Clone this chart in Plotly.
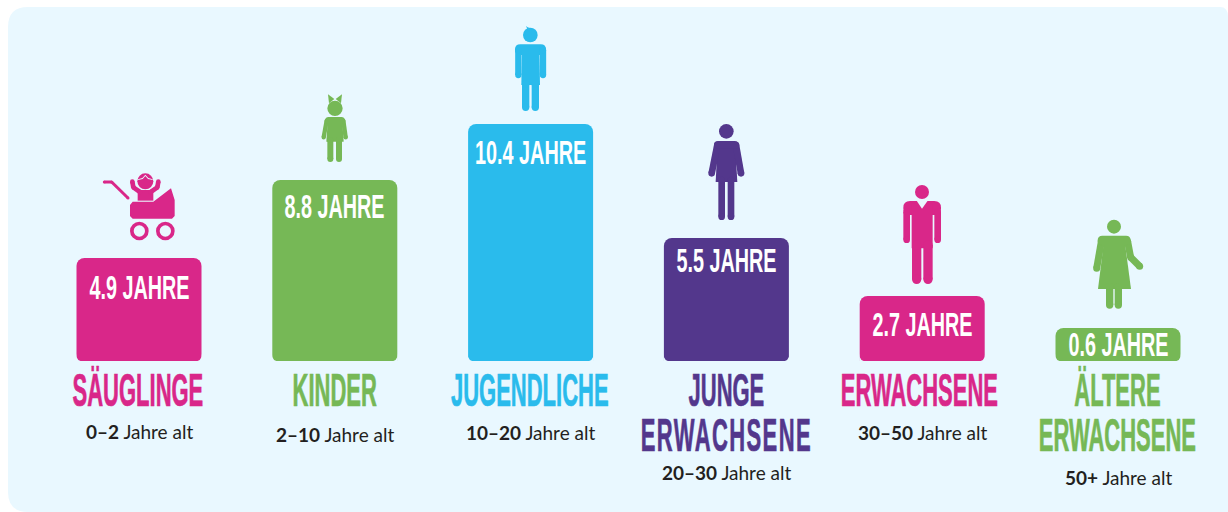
import re
import plotly.graph_objects as go

W, H = 1228, 512
BASE_Y = 361

categories = ["Säuglinge", "Kinder", "Jugendliche", "Junge Erwachsene", "Erwachsene", "Ältere Erwachsene"]
bar_heights = [103, 181, 237, 123, 65, 33]
value_labels = ["4.9 JAHRE", "8.8 JAHRE", "10.4 JAHRE", "5.5 JAHRE", "2.7 JAHRE", "0.6 JAHRE"]
value_offsets = [29, 26, 28, 22, 28, 16]
title_lines = [["SÄUGLINGE"], ["KINDER"], ["JUGENDLICHE"], ["JUNGE", "ERWACHSENE"], ["ERWACHSENE"], ["ÄLTERE", "ERWACHSENE"]]
title_x = [138, 335, 530, 726, 919, 1117]
age_ranges = ["0–2", "2–10", "10–20", "20–30", "30–50", "50+"]
age_x = [139, 335, 530, 726, 922, 1118]
age_y = [431, 434, 432, 472, 432, 477]
colors = ["#D92789", "#76B856", "#2ABBEC", "#53378C", "#D92789", "#76B856"]

PANEL = "#E9F8FF"
MAGENTA, GREEN, BLUE, PURPLE = "#D92789", "#76B856", "#2ABBEC", "#53378C"
BAR_W = 125
SLOT = 195.8
X0 = 139 - SLOT / 2
X1 = 1118 + SLOT / 2
TITLE_SIZE = 39

shapes = []


def fx(x):
    return x / W


def fy(y):
    return 1 - y / H


def path_px(d):
    toks = re.findall(r"[MLQCZ]|-?[\d.]+", d)
    out, is_x = [], True
    for t in toks:
        if t in "MLQCZ":
            out.append(t)
            is_x = True
        else:
            v = float(t)
            out.append(f"{fx(v) if is_x else fy(v):.6f}")
            is_x = not is_x
    return " ".join(out)


def add_path(d, fill, line=None, width=0):
    shapes.append(dict(type="path", xref="paper", yref="paper", path=path_px(d), fillcolor=fill,
                       line=dict(width=width, color=line or fill), layer="above"))


def circle(cx, cy, r, fill, line=None, width=0):
    shapes.append(dict(type="circle", xref="paper", yref="paper", x0=fx(cx - r), x1=fx(cx + r),
                       y0=fy(cy + r), y1=fy(cy - r), fillcolor=fill,
                       line=dict(width=width, color=line or fill), layer="above"))


def rrect(x0, y0, x1, y1, r, fill):
    add_path(f"M {x0+r} {y0} L {x1-r} {y0} Q {x1} {y0} {x1} {y0+r} L {x1} {y1-r} Q {x1} {y1} {x1-r} {y1} "
             f"L {x0+r} {y1} Q {x0} {y1} {x0} {y1-r} L {x0} {y0+r} Q {x0} {y0} {x0+r} {y0} Z", fill)


def capsule(pts, r, color):
    for (a, b), (c, d) in zip(pts, pts[1:]):
        shapes.append(dict(type="line", xref="paper", yref="paper", x0=fx(a), y0=fy(b), x1=fx(c), y1=fy(d),
                           line=dict(width=2 * r, color=color), layer="above"))
    for a, b in pts:
        circle(a, b, r, color)


class Icon:
    """Icon drawn in 3x zoomed coordinates with a pixel origin."""

    def __init__(self, ox, oy, color):
        self.ox, self.oy, self.c = ox, oy, color

    def p(self, x, y):
        return self.ox + x / 3, self.oy + y / 3

    def poly(self, pts, color=None):
        q = [self.p(*t) for t in pts]
        d = "M " + " L ".join(f"{a} {b}" for a, b in q) + " Z"
        add_path(d, color or self.c)

    def circ(self, x, y, r, color=None):
        a, b = self.p(x, y)
        circle(a, b, r / 3, color or self.c)

    def cap(self, pts, r, color=None):
        capsule([self.p(*t) for t in pts], r / 3, color or self.c)

    def rr(self, x0, y0, x1, y1, r):
        a, b = self.p(x0, y0)
        c, d = self.p(x1, y1)
        rrect(a, b, c, d, r / 3, self.c)


# background panel
r = 20
shapes.append(dict(type="path", xref="paper", yref="paper", layer="below", fillcolor=PANEL, line=dict(width=0),
                   path=path_px(f"M {8+r} 7 L {W-8} 7 Q {W} 7 {W} 17 L {W} {H} L {8+r} {H} Q 8 {H} 8 {H-r} L 8 {7+r} Q 8 7 {8+r} 7 Z")))

# lower bar corners
cr = 8
for i in range(6):
    cx = X0 + SLOT * (i + 0.5)
    a, b = cx - BAR_W / 2 - 0.5, cx + BAR_W / 2 + 0.5
    y = BASE_Y + 0.5
    add_path(f"M {a} {y} L {a+cr} {y} Q {a} {y} {a} {y-cr} Z", PANEL)
    add_path(f"M {b} {y} L {b-cr} {y} Q {b} {y} {b} {y-cr} Z", PANEL)

# stroller
s = Icon(60, 90, MAGENTA)
s.cap([(133, 276), (155, 276), (204, 324)], 4.5)
s.poly([(233, 300), (280, 300), (280, 332), (233, 332)])
s.cap([(217, 275), (220, 292), (240, 306)], 7)
s.cap([(295, 275), (292, 292), (272, 306)], 7)
s.circ(256, 272, 26, PANEL)
s.circ(256, 274, 24)
s.poly([(256, 254), (247, 264), (234, 268), (234, 270), (248, 267), (256, 258), (264, 267), (278, 270), (278, 268), (265, 264)], PANEL)
s.poly([(210, 345), (218, 335), (280, 335), (333, 295), (344, 330), (344, 378), (336, 386), (218, 386), (210, 378)])
s.circ(238, 423, 28)
s.circ(238, 423, 17, PANEL)
s.circ(316, 423, 28)
s.circ(316, 423, 17, PANEL)

# girl
g = Icon(60, 90, GREEN)
g.poly([(804, 13), (823, 27), (807, 40)])
g.poly([(846, 13), (827, 27), (843, 40)])
g.circ(825, 55, 23)
g.poly([(804, 82), (846, 82), (851, 155), (799, 155)])
g.cap([(800, 92), (791, 142)], 6.5)
g.cap([(850, 92), (857, 142)], 6.5)
g.rr(796, 81, 854, 102, 10)
g.cap([(811, 150), (811, 207)], 9)
g.cap([(837, 150), (837, 207)], 9)

# teenager
b = Icon(460, 10, BLUE)
b.circ(211, 75, 22)
b.poly([(198, 48), (203, 52), (210, 54), (202, 58)])
b.rr(165, 103, 258, 135, 16)
b.poly([(186, 110), (238, 110), (240, 225), (184, 225)])
b.cap([(175, 120), (175, 195)], 9.5)
b.cap([(249, 120), (249, 195)], 9.5)
b.cap([(197, 222), (197, 292)], 11)
b.cap([(226, 222), (226, 292)], 11)

# young woman
w = Icon(460, 10, PURPLE)
w.poly([(773, 395), (825, 395), (832, 516), (767, 516)])
w.cap([(772, 405), (755, 490)], 10)
w.cap([(828, 405), (843, 490)], 10)
w.rr(762, 393, 836, 416, 12)
w.circ(799, 364, 26, PANEL)
w.circ(799, 364, 22)
w.cap([(785, 510), (785, 620)], 10)
w.cap([(813, 510), (813, 620)], 10)

# adult man
m = Icon(860, 170, MAGENTA)
m.rr(130, 93, 243, 135, 20)
m.poly([(155, 100), (218, 100), (218, 235), (155, 235)])
m.cap([(140, 125), (140, 209)], 10)
m.cap([(233, 125), (233, 209)], 10)
m.cap([(170, 225), (170, 328)], 14)
m.cap([(204, 225), (204, 328)], 14)
m.poly([(170, 92), (203, 92), (186, 116)], PANEL)
m.circ(186, 66, 21)

# older woman
o = Icon(860, 170, GREEN)
o.poly([(733, 205), (793, 205), (813, 357), (714, 357)])
o.cap([(724, 215), (710, 295)], 10.5)
o.cap([(803, 215), (812, 262), (839, 289)], 10.5)
o.rr(713, 197, 812, 225, 14)
o.circ(762, 170, 25, PANEL)
o.circ(762, 170, 21)
o.cap([(749, 350), (749, 405)], 11)
o.cap([(775, 350), (775, 405)], 11)

annotations = []
for i, cat in enumerate(categories):
    annotations.append(dict(x=cat, xref="x", y=bar_heights[i], yref="y", yshift=-value_offsets[i], text=value_labels[i],
                            showarrow=False, xanchor="center", yanchor="middle",
                            font=dict(family="Liberation Sans", size=33, color="white", weight="bold")))
    lines = title_lines[i]
    ty = 392.6 + (0 if len(lines) == 1 else 1.3 * TITLE_SIZE / 2)
    annotations.append(dict(x=fx(title_x[i]), xref="paper", y=fy(ty), yref="paper", text="<br>".join(lines),
                            showarrow=False, xanchor="center", yanchor="middle",
                            font=dict(family="Liberation Sans", size=TITLE_SIZE, color=colors[i], weight="bold")))
    annotations.append(dict(x=fx(age_x[i]), xref="paper", y=fy(age_y[i]), yref="paper",
                            text=f"<b>{age_ranges[i]}</b> Jahre alt", showarrow=False,
                            xanchor="center", yanchor="middle",
                            font=dict(family="Lato", size=19, color="#231F20")))

fig = go.Figure(go.Bar(x=categories, y=bar_heights, marker=dict(color=colors, line=dict(width=0)),
                       hoverinfo="skip", showlegend=False))
fig.update_layout(
    width=W, height=H, autosize=False,
    margin=dict(l=0, r=0, t=0, b=0, pad=0),
    paper_bgcolor="white", plot_bgcolor="rgba(0,0,0,0)",
    bargap=1 - BAR_W / SLOT, barcornerradius=cr,
    xaxis=dict(domain=[X0 / W, X1 / W], visible=False, type="category", categoryorder="array",
               categoryarray=categories, fixedrange=True),
    yaxis=dict(domain=[1 - BASE_Y / H, 1], range=[0, BASE_Y], visible=False, fixedrange=True),
    shapes=shapes, annotations=annotations,
)

post = """
document.documentElement.style.margin = '0';
document.body.style.margin = '0';
document.querySelectorAll('text.annotation-text').forEach(function(el){
  var fs = parseFloat(el.style.fontSize);
  if (fs > 35 || fs < 30) {
    if (fs < 30) return;
    var sy = 1.18, sx = 0.564;
    el.style.stroke = el.style.fill;
    el.style.strokeWidth = '0.6px';
    var junge = el.textContent.indexOf('JUNGE') >= 0;
    el.querySelectorAll('tspan.line').forEach(function(t, i){
      if (i > 0) {
        t.setAttribute('dy', (i * 45 / sy) + 'px');
        if (junge) { t.style.letterSpacing = '2.5px'; }
      }
    });
    var x = parseFloat(el.getAttribute('x')), y = parseFloat(el.getAttribute('y'));
    el.setAttribute('transform', 'translate(' + x + ',' + y + ') scale(' + sx + ',' + sy + ') translate(' + (-x) + ',' + (-y) + ')');
    return;
  }
  el.style.transformBox = 'fill-box';
  el.style.transformOrigin = 'center';
  el.style.transform = 'scaleX(0.6)';
});
"""
fig.write_html("out.html", post_script=post, config=dict(displayModeBar=False))
